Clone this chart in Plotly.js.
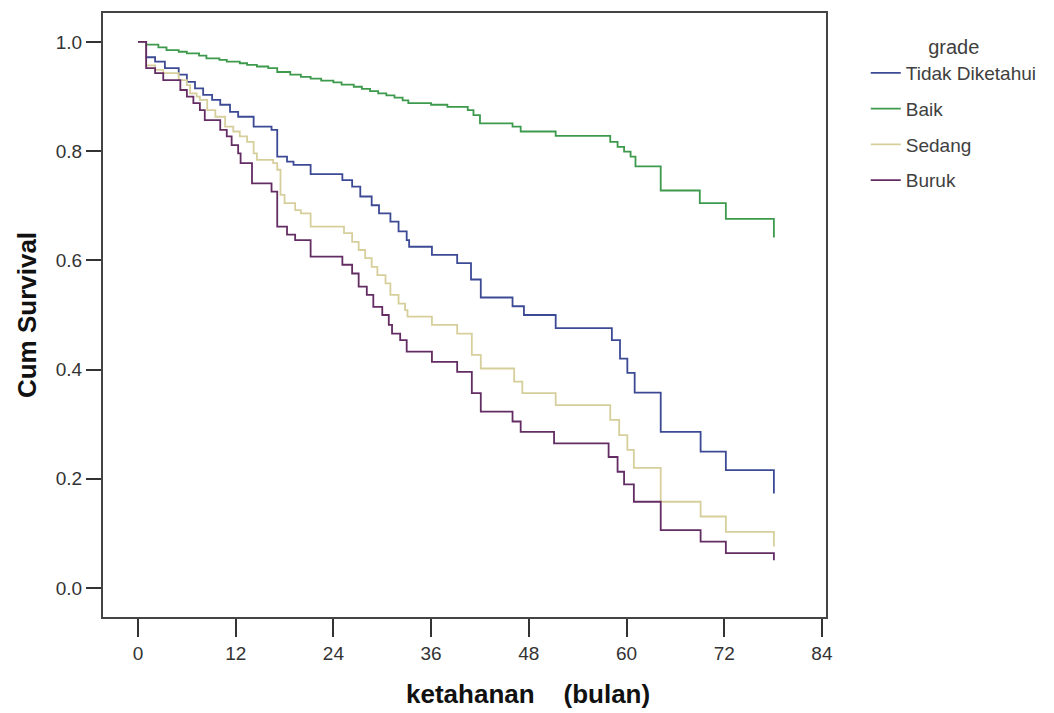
<!DOCTYPE html>
<html>
<head>
<meta charset="utf-8">
<script src="https://cdn.plot.ly/plotly-3.0.1.min.js"></script>
<style>
  html, body { margin: 0; padding: 0; background: #ffffff; }
  #chart { width: 1054px; height: 713px; }
</style>
</head>
<body>
<div id="chart"></div>
<script>
// ---- Data (Kaplan-Meier cumulative survival, time in months) ----
const seriesNames = ["Tidak Diketahui", "Baik", "Sedang", "Buruk"];

const tidakTime = [0, 1.0, 2.1, 3.3, 5.0, 6.0, 7.0, 8.0, 9.1, 10.1, 11.3, 12.3, 14.2, 16.4, 17.1, 18.3, 19.1, 21.2, 25.1, 26.3, 27.3, 28.7, 29.6, 31.0, 32.0, 33.0, 33.3, 36.1, 39.2, 40.9, 42.1, 46.0, 47.4, 51.3, 58.2, 59.2, 60.1, 61.0, 64.2, 69.1, 72.2, 78.1];
const tidakSurv = [1.0, 0.972, 0.964, 0.952, 0.940, 0.927, 0.915, 0.903, 0.894, 0.885, 0.872, 0.863, 0.845, 0.839, 0.790, 0.781, 0.775, 0.758, 0.747, 0.735, 0.717, 0.701, 0.686, 0.671, 0.653, 0.637, 0.625, 0.610, 0.595, 0.565, 0.532, 0.516, 0.500, 0.476, 0.454, 0.420, 0.394, 0.358, 0.286, 0.250, 0.216, 0.173];

const baikTime = [0, 1.0, 2.5, 3.5, 5.0, 6.0, 7.5, 8.4, 10.0, 10.9, 12.5, 13.4, 14.6, 16.0, 17.1, 18.7, 20.0, 21.2, 22.5, 24.0, 25.0, 26.5, 27.5, 28.5, 29.5, 30.5, 31.5, 32.5, 33.2, 36.0, 38.0, 40.5, 41.2, 42.0, 46.0, 47.0, 51.3, 58.0, 58.9, 59.7, 60.5, 61.1, 64.2, 69.0, 72.2, 78.1];
const baikSurv = [1.0, 0.995, 0.990, 0.985, 0.982, 0.979, 0.975, 0.970, 0.967, 0.964, 0.961, 0.958, 0.955, 0.952, 0.945, 0.940, 0.936, 0.933, 0.929, 0.926, 0.922, 0.918, 0.914, 0.910, 0.906, 0.902, 0.898, 0.893, 0.888, 0.885, 0.881, 0.875, 0.866, 0.851, 0.845, 0.836, 0.828, 0.817, 0.808, 0.799, 0.790, 0.772, 0.728, 0.705, 0.676, 0.642];

const sedangTime = [0, 1.0, 2.1, 3.1, 5.0, 6.0, 6.4, 7.2, 7.6, 8.5, 9.5, 10.7, 11.7, 12.5, 13.4, 14.2, 14.6, 16.6, 17.1, 17.5, 18.0, 19.3, 20.0, 21.2, 25.3, 26.3, 27.1, 27.9, 28.7, 29.4, 30.4, 31.0, 32.0, 32.8, 33.1, 36.1, 39.2, 41.0, 42.1, 46.2, 47.2, 51.3, 58.0, 59.1, 60.1, 60.9, 64.2, 69.1, 72.2, 78.1];
const sedangSurv = [1.0, 0.957, 0.949, 0.943, 0.930, 0.921, 0.906, 0.900, 0.894, 0.875, 0.863, 0.845, 0.836, 0.827, 0.817, 0.796, 0.784, 0.778, 0.766, 0.720, 0.705, 0.692, 0.686, 0.662, 0.650, 0.634, 0.619, 0.604, 0.588, 0.573, 0.558, 0.537, 0.521, 0.509, 0.497, 0.482, 0.466, 0.427, 0.402, 0.378, 0.357, 0.335, 0.308, 0.280, 0.253, 0.220, 0.158, 0.131, 0.103, 0.076];

const burukTime = [0, 1.0, 2.1, 3.1, 5.2, 6.0, 6.8, 7.6, 8.2, 10.1, 10.9, 11.5, 12.3, 12.6, 14.0, 16.4, 17.1, 18.3, 19.3, 21.2, 25.1, 26.3, 27.1, 28.1, 28.9, 30.0, 30.8, 31.2, 32.2, 33.0, 36.1, 39.2, 41.0, 42.1, 46.0, 47.0, 51.1, 57.8, 58.9, 59.7, 60.9, 64.2, 69.1, 72.2, 78.1];
const burukSurv = [1.0, 0.952, 0.943, 0.930, 0.912, 0.900, 0.888, 0.875, 0.857, 0.839, 0.827, 0.811, 0.796, 0.778, 0.741, 0.726, 0.662, 0.647, 0.637, 0.607, 0.592, 0.576, 0.552, 0.537, 0.515, 0.500, 0.482, 0.466, 0.454, 0.433, 0.414, 0.396, 0.357, 0.323, 0.305, 0.286, 0.265, 0.240, 0.213, 0.190, 0.158, 0.106, 0.085, 0.064, 0.051];

const xTickVals = [0, 12, 24, 36, 48, 60, 72, 84];
const yTickVals = [0.0, 0.2, 0.4, 0.6, 0.8, 1.0];
const yTickText = ["0.0", "0.2", "0.4", "0.6", "0.8", "1.0"];

// ---- Styling ----
const colors = ["#3c4a95", "#3d9a4d", "#d6cf9c", "#632c63"];
const times = [tidakTime, baikTime, sedangTime, burukTime];
const survs = [tidakSurv, baikSurv, sedangSurv, burukSurv];
const FONT = "Liberation Sans, Arial, Helvetica, sans-serif";

const traces = seriesNames.map((name, i) => ({
  type: "scatter",
  mode: "lines",
  name: name,
  legendgroup: "g" + i,
  x: times[i],
  y: survs[i],
  line: { shape: "hv", color: colors[i], width: 1.8 },
  hoverinfo: "x+y+name"
}));

const layout = {
  width: 1054,
  height: 713,
  margin: { l: 103, r: 228, t: 13, b: 96, pad: 0, autoexpand: false },
  paper_bgcolor: "#ffffff",
  plot_bgcolor: "#ffffff",
  font: { family: FONT, size: 19, color: "#333333" },
  showlegend: true,
  legend: {
    x: 1.055, xanchor: "left",
    y: 0.975, yanchor: "top",
    bgcolor: "rgba(0,0,0,0)",
    font: { family: FONT, size: 19, color: "#404040" },
    title: { text: "grade", side: "top center", font: { family: FONT, size: 20, color: "#404040" } },
    tracegroupgap: 8,
    itemwidth: 30
  },
  xaxis: {
    range: [-4.3, 84.5],
    tickmode: "array",
    tickvals: xTickVals,
    ticks: "outside",
    ticklen: 18,
    tickwidth: 2,
    tickcolor: "#333333",
    tickfont: { family: FONT, size: 19, color: "#333333" },
    showgrid: false,
    zeroline: false,
    showline: true,
    linecolor: "#444444",
    linewidth: 2,
    mirror: true,
    fixedrange: true
  },
  yaxis: {
    range: [-0.053, 1.053],
    tickmode: "array",
    tickvals: yTickVals,
    ticktext: yTickText,
    ticks: "outside",
    ticklen: 15,
    tickwidth: 2,
    tickcolor: "#333333",
    tickfont: { family: FONT, size: 19, color: "#333333" },
    showgrid: false,
    zeroline: false,
    showline: true,
    linecolor: "#444444",
    linewidth: 2,
    mirror: true,
    fixedrange: true,
    title: {
      text: "<b>Cum Survival</b>",
      standoff: 12,
      font: { family: FONT, size: 26, color: "#111111" }
    }
  },
  annotations: [{
    text: "<b>ketahanan\u00a0\u00a0\u00a0\u00a0(bulan)</b>",
    xref: "paper", yref: "paper",
    x: (528 - 103) / 723, y: -(694 - 617) / 604,
    xanchor: "center", yanchor: "middle",
    showarrow: false,
    font: { family: FONT, size: 26, color: "#111111" }
  }]
};

Plotly.newPlot("chart", traces, layout, { displayModeBar: false, staticPlot: true });
</script>
</body>
</html>
